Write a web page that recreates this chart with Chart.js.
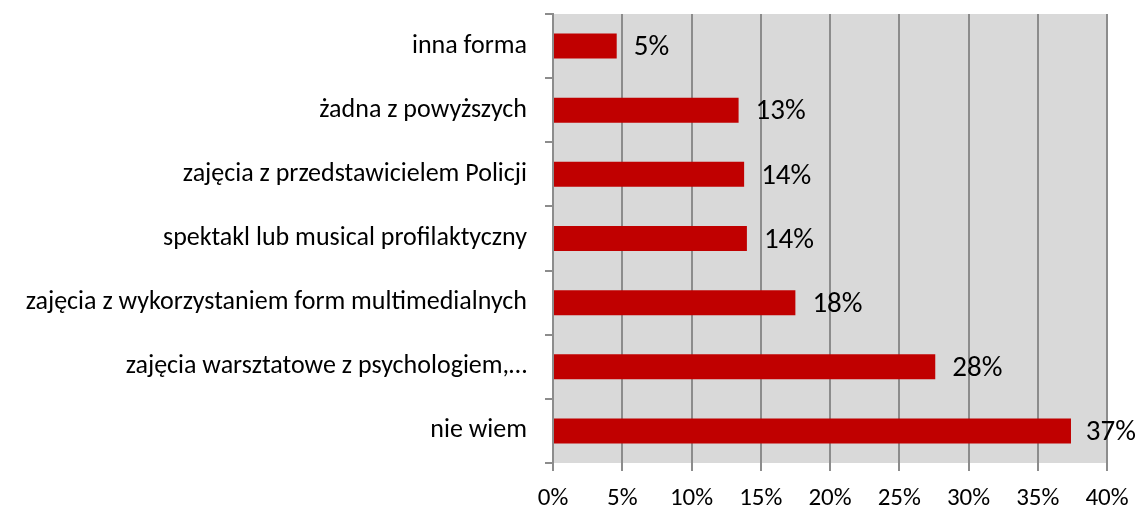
<!DOCTYPE html>
<html>
<head>
<meta charset="utf-8">
<script src="https://cdn.jsdelivr.net/npm/chart.js@4"></script>
<style>
  html, body { margin: 0; padding: 0; background: #fff; }
  #wrap { width: 1138px; height: 509px; }
</style>
</head>
<body>
<div id="wrap"><canvas id="chart"></canvas></div>
<script>
// Formy zajęć profilaktycznych (%)
const categories = [
    'inna forma',
    'żadna z powyższych',
    'zajęcia z przedstawicielem Policji',
    'spektakl lub musical profilaktyczny',
    'zajęcia z wykorzystaniem form multimedialnych',
    'zajęcia warsztatowe z psychologiem,…',
    'nie wiem'
];
const shares = [4.6, 13.4, 13.8, 14.0, 17.5, 27.6, 37.4];
const tickValues = [0, 5, 10, 15, 20, 25, 30, 35, 40];

const FONT = 'Carlito, Calibri, Lato, sans-serif';
const GRID = '#8c8c8c';

// szare tło obszaru wykresu
const plotBackground = {
    id: 'plotBackground',
    beforeDraw(chart) {
        const { ctx, chartArea: a } = chart;
        ctx.save();
        ctx.fillStyle = '#d9d9d9';
        ctx.fillRect(a.left, a.top, a.right - a.left, a.bottom - a.top);
        ctx.restore();
    }
};

// etykiety z wartością na końcu słupka (przesunięte w lewo, gdy brakuje miejsca)
const valueLabels = {
    id: 'valueLabels',
    afterDatasetsDraw(chart) {
        const { ctx } = chart;
        const meta = chart.getDatasetMeta(0);
        ctx.save();
        ctx.font = '29px ' + FONT;
        ctx.fillStyle = '#000';
        ctx.textAlign = 'left';
        ctx.textBaseline = 'middle';
        meta.data.forEach((bar, i) => {
            const text = Math.round(chart.data.datasets[0].data[i]) + '%';
            const w = ctx.measureText(text).width;
            const x = Math.min(bar.x + 17, chart.width - 2 - w);
            ctx.fillText(text, x, bar.y + 2);
        });
        ctx.restore();
    }
};

const ctx = document.getElementById('chart').getContext('2d');
new Chart(ctx, {
    type: 'bar',
    data: {
        labels: categories,
        datasets: [{
            data: shares,
            backgroundColor: '#c00000',
            borderWidth: 0,
            categoryPercentage: 1,
            barPercentage: 0.39
        }]
    },
    options: {
        indexAxis: 'y',
        responsive: true,
        maintainAspectRatio: false,
        animation: false,
        layout: { padding: { top: 14, right: 31, left: 0, bottom: 0 } },
        plugins: {
            legend: { display: false },
            tooltip: { enabled: false }
        },
        scales: {
            x: {
                min: 0,
                max: 40,
                afterFit(scale) {
                    scale.height = 46;
                    scale.paddingLeft = 0;
                    scale.paddingRight = 0;
                },
                afterBuildTicks(scale) {
                    scale.ticks = tickValues.map(v => ({ value: v }));
                },
                ticks: {
                    callback: v => v + '%',
                    color: '#000',
                    padding: 13,
                    font: { family: FONT, size: 25 }
                },
                grid: { color: GRID, lineWidth: 2, tickLength: 8 },
                border: { display: false }
            },
            y: {
                afterFit(scale) {
                    scale.width = 553;
                    scale.paddingTop = 0;
                    scale.paddingBottom = 0;
                },
                ticks: {
                    color: '#000',
                    padding: 18,
                    font: { family: FONT, size: 26 }
                },
                grid: { drawOnChartArea: false, color: GRID, lineWidth: 2, tickLength: 8, offset: true },
                border: { display: true, color: GRID, width: 2 }
            }
        }
    },
    plugins: [plotBackground, valueLabels]
});
</script>
</body>
</html>
